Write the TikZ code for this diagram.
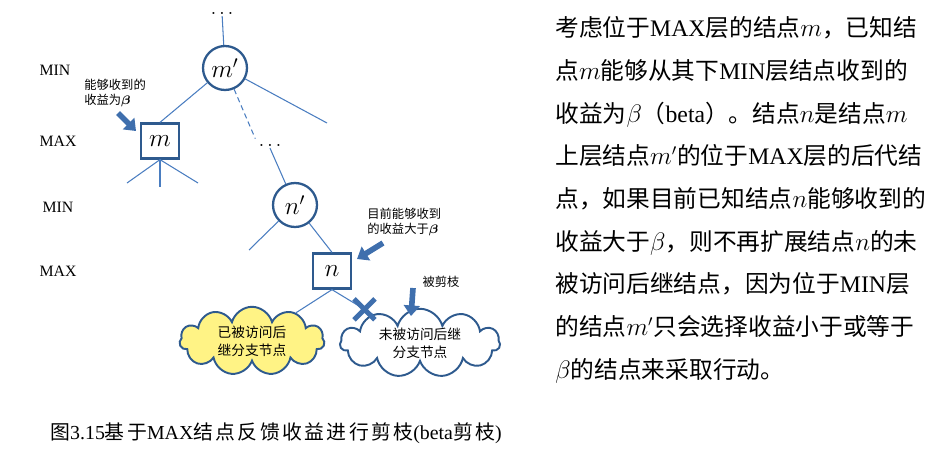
\documentclass[tikz,border=0pt]{standalone}
\usepackage{fontspec}
\usepackage{amsmath}
\setmainfont{Noto Sans CJK SC}
\newfontfamily\tnr{Liberation Serif}
\newfontfamily\capfont[LetterSpace=12]{Noto Sans CJK SC}
\usetikzlibrary{shapes, arrows.meta}

\definecolor{nodeblue}{HTML}{2E5A8E}
\definecolor{edgeblue}{HTML}{4A7DC0}
\definecolor{arrblue}{HTML}{3F6FAD}
\definecolor{cloudyellow}{HTML}{FFF385}

\begin{document}
\begin{tikzpicture}[
    x=0.02cm, y=-0.02cm,
    layer/.style={rectangle, draw=none, fill=none, text=black, font=\tnr\fontsize{9}{10}\selectfont},
    minnode/.style={circle, draw=nodeblue, line width=1.3pt, fill=white, minimum size=0.88cm,
        inner sep=0pt, font=\fontsize{14.5}{16}\selectfont},
    maxnode/.style={rectangle, draw=nodeblue, line width=1.3pt, fill=white, minimum width=0.76cm,
        minimum height=0.70cm, inner sep=0pt, font=\fontsize{14.5}{16}\selectfont},
    branch/.style={draw=edgeblue, line width=0.6pt},
    dots/.style={inner sep=1pt, font=\fontsize{11}{12}\selectfont},
    note/.style={align=left, inner sep=0pt, text=black, font=\fontsize{7}{8.6}\selectfont},
    fatarrow/.style={draw=arrblue, line width=3.2pt, -{Triangle[length=6pt, width=9pt]}},
    seen/.style={cloud, cloud puffs=11, aspect=2.8, draw=nodeblue, line width=1.1pt, fill=cloudyellow,
        align=center, inner sep=0pt, minimum width=2.9cm, minimum height=0.92cm,
        font=\fontsize{7.8}{10.4}\selectfont},
    unseen/.style={seen, fill=white, minimum width=3.2cm, minimum height=0.94cm},
    prune/.style={cross out, draw=arrblue, line width=2.8pt, minimum size=0.32cm, inner sep=0pt}
    % prune/.style={cross out, draw=nodeblue, line width=1pt, minimum size=0.3cm},
]
\useasboundingbox (0,0) rectangle (940,453);

\node (L1) [layer] at (55,70) {MIN};
\node (L2) [layer] at (58,141) {MAX};
\node (L3) [layer] at (58,207) {MIN};
\node (L4) [layer] at (58,271) {MAX};

\node (Dots0) [dots] at (222,13) {$\ldots$};
\node (Mp) [minnode] at (225,68) {$m'$};
\node (BoxM) [maxnode] at (160,141) {$m$};
\node (Dots1) [dots] at (270,145) {$\ldots$};
\node (Np) [minnode] at (295,205) {$n'$};
\node (BoxN) [maxnode] at (332,271) {$n$};
\node (Seen) [seen] at (252,341) {已被访问后\\继分支节点};
\node (Unseen) [unseen] at (420,343) {未被访问后继\\分支节点};

\node (NoteM) [note, anchor=west] at (84,93) {能够收到的\\收益为$\boldsymbol{\beta}$};
\node (NoteN) [note, anchor=west] at (367,222) {目前能够收到\\的收益大于$\boldsymbol{\beta}$};
\node (NoteCut) [note] at (441,282) {被剪枝};

\coordinate (StubM1) at (127,183);
\coordinate (StubM2) at (160,187);
\coordinate (StubM3) at (198,183);
\coordinate (StubMp) at (327,123);
\coordinate (StubNp) at (249,250);
\coordinate (ArrM0) at (118,113);
\coordinate (ArrM1) at (136,131);
\coordinate (ArrN0) at (383,243);
\coordinate (ArrN1) at (357,259);
\coordinate (ArrC0) at (413,288);
\coordinate (ArrC1) at (411,316);

\draw [branch] (Dots0) -- (Mp);
\draw [branch] (Mp) -- (BoxM.north);
\draw [branch, densely dashed, shorten >=2pt] (Mp) -- (Dots1.north west);
\draw [branch] (Mp) -- (StubMp);
\draw [branch] (Dots1.south) -- (Np);
\draw [branch] (BoxM.south) -- (StubM1);
\draw [branch] (BoxM.south) -- (StubM2);
\draw [branch] (BoxM.south) -- (StubM3);
\draw [branch] (Np) -- (StubNp);
\draw [branch] (Np) -- (BoxN.north);
\draw [branch] (BoxN.south) -- (Seen);
\draw [branch] (BoxN.south) -- node [prune, pos=0.8] (Cut) {} (Unseen);

\draw [fatarrow] (ArrM0) -- (ArrM1);
\draw [fatarrow] (ArrN0) -- (ArrN1);
\draw [fatarrow] (ArrC0) -- (ArrC1);

\node (Expl) [anchor=west, align=left, inner sep=0pt, font=\fontsize{13.5}{24.3}\selectfont] at (555,200)
    {考虑位于{\tnr MAX}层的结点$m$，已知结\\
     点$m$能够从其下{\tnr MIN}层结点收到的\\
     收益为$\beta$（{\tnr beta}）。结点$n$是结点$m$\\
     上层结点$m'$的位于{\tnr MAX}层的后代结\\
     点，如果目前已知结点$n$能够收到的\\
     收益大于$\beta$，则不再扩展结点$n$的未\\
     被访问后继结点，因为位于{\tnr MIN}层\\
     的结点$m'$只会选择收益小于或等于\\
     $\beta$的结点来采取行动。};

\node (Cap) [anchor=west, inner sep=0pt, font=\capfont\fontsize{11.3}{13}\selectfont] at (50,433)
    {图{\tnr 3.15}基于{\tnr MAX}结点反馈收益进行剪枝{\tnr (beta}剪枝{\tnr )}};
\end{tikzpicture}
\end{document}
